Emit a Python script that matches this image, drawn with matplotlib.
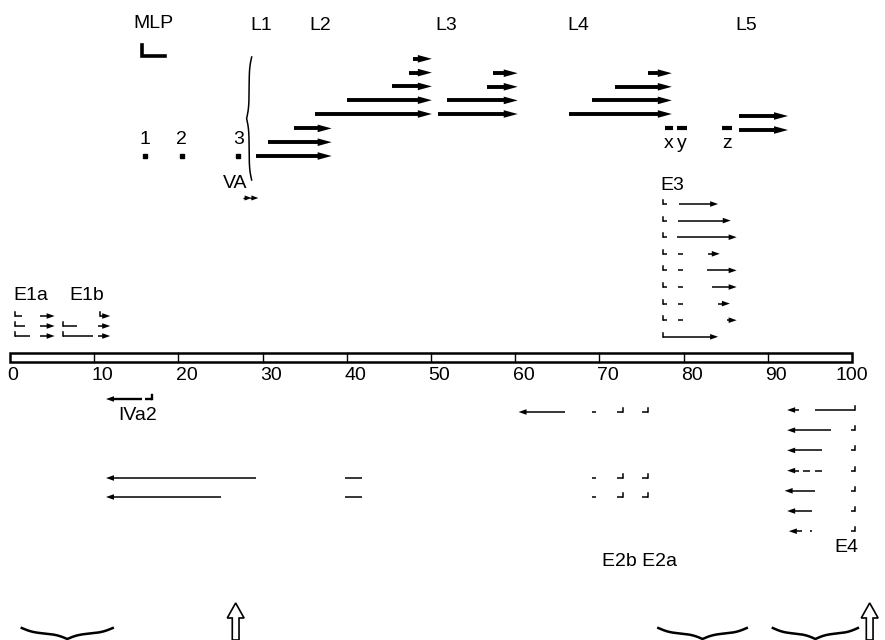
import numpy as np
import matplotlib.pyplot as plt
from matplotlib.patches import Rectangle, FancyArrow

plt.rcParams['font.family'] = ['Liberation Sans', 'DejaVu Sans']

# genome scale, map units 0-100
scale_ticks = [0, 10, 20, 30, 40, 50, 60, 70, 80, 90, 100]

# major late promoter, tripartite leader, VA RNA
mlp_pos = 15.7
leader_labels = ['1', '2', '3']
leader_pos = [16.0, 20.4, 27.1]
va_span = (27.7, 29.5)

# late families: start of each mRNA body and the shared 3' end
late_names = ['L1', 'L2', 'L3', 'L4', 'L5']
late_label_pos = [29.8, 36.8, 51.8, 67.5, 87.4]
late_starts = [
    [29.2, 30.6, 33.7],
    [36.2, 40.0, 45.4, 47.4, 47.9],
    [50.8, 51.9, 56.7, 57.4],
    [66.4, 69.1, 71.9, 75.8],
    [86.6, 86.6],
]
late_ends = [38.2, 50.1, 60.3, 78.6, 92.4]
xyz_labels = ['x', 'y', 'z']
xyz_spans = [(77.8, 78.7), (79.2, 80.4), (84.6, 85.7)]

# early units, exons listed from the promoter towards the 3' end
e1a = [
    [(0.6, 1.4), (3.6, 5.3)],
    [(0.6, 1.8), (3.6, 5.3)],
    [(0.6, 2.4), (3.6, 5.3)],
]
e1b = [
    [(10.7, 11.9)],
    [(6.3, 8.0), (10.5, 11.9)],
    [(6.3, 9.9), (10.5, 11.9)],
]
e3 = [
    [(77.6, 78.0), (79.5, 84.1)],
    [(77.6, 78.0), (79.3, 85.6)],
    [(77.6, 78.0), (79.2, 86.3)],
    [(77.6, 78.0), (79.3, 79.9), (82.9, 84.3)],
    [(77.6, 78.0), (79.3, 79.9), (82.8, 86.3)],
    [(77.6, 78.0), (79.3, 79.9), (83.4, 86.3)],
    [(77.6, 78.0), (79.3, 79.9), (84.1, 85.5)],
    [(77.6, 78.0), (79.3, 79.9), (85.2, 86.3)],
    [(77.6, 84.1)],
]
iva2 = [(16.9, 16.0), (15.7, 11.4)]
e2_promoters = [75.8, 72.8]
e2 = [
    [(75.8, 75.1), (72.8, 72.1), (69.6, 69.1), (65.9, 60.4)],
    [(75.8, 75.1), (72.8, 72.1), (69.6, 69.1), (41.8, 39.8), (29.2, 11.4)],
    [(75.8, 75.1), (72.8, 72.1), (69.6, 69.1), (41.8, 39.8), (25.1, 11.4)],
]
e4 = [
    [(100.4, 95.6), (93.7, 92.3)],
    [(100.4, 99.9), (97.5, 92.3)],
    [(100.4, 99.9), (96.4, 92.3)],
    [(100.4, 99.9), (96.4, 95.6), (95.0, 94.2), (93.7, 92.3)],
    [(100.4, 99.9), (95.6, 92.0)],
    [(100.4, 99.9), (95.2, 92.3)],
    [(100.4, 99.9), (95.2, 95.0), (94.1, 92.5)],
]

# regions marked under the map
brace_spans = [(1.4, 12.2), (77.0, 87.5), (90.6, 100.7)]
up_arrow_pos = [26.8, 102.1]

# ---- figure: x in map units, y in rows of pixels (top = 0)
PX = 8.42  # pixels per map unit
fig = plt.figure(figsize=(8.85, 6.4), dpi=100)
ax = fig.add_axes([0, 0, 1, 1])
ax.set_xlim(-10 / PX, 875 / PX)
ax.set_ylim(640, 0)
ax.axis('off')

FS = 14


def arrow(x0, x1, y, lw=1.1, hl=8, hw=2.8):
    # line plus a filled triangular head, head sizes in pixels
    d = 1 if x1 >= x0 else -1
    hlu = hl / PX
    base = x1 - d * hlu
    if (base - x0) * d > 0:
        ax.plot([x0, base + d * 0.1], [y, y], color='black', lw=lw, solid_capstyle='butt')
    ax.fill([base, x1, base], [y - hw, y, y + hw], color='black', lw=0)


def transcript(exons, y, lw=1.1, ticks=None, tick_h=4):
    for i, (s, e) in enumerate(exons):
        if i == len(exons) - 1:
            arrow(s, e, y, lw=lw)
        else:
            ax.plot([s, e], [y, y], color='black', lw=lw, solid_capstyle='butt')
    if ticks is None:
        ticks = [exons[0][0]]
    for t in ticks:
        ax.plot([t, t], [y - tick_h, y], color='black', lw=lw, solid_capstyle='projecting')


def brace(c0, c1, base, depth, vertical=False, lw=1.6, beta=14):
    half = np.linspace(0, 0.5, 120)
    b = 1 / (1 + np.exp(-beta * half)) + 1 / (1 + np.exp(-beta * (half - 0.5))) - 0.5
    shape = np.concatenate([b, b[::-1][1:]])
    t = np.concatenate([half, 1 - half[::-1][1:]])
    along = c0 + (c1 - c0) * t
    off = base + depth * shape
    if vertical:
        ax.plot(off, along, color='black', lw=lw)
    else:
        ax.plot(along, off, color='black', lw=lw)


# genome bar
ax.add_patch(Rectangle((0, 353), 100, 9, fill=False, ec='black', lw=1.8))
for v in scale_ticks[1:-1]:
    ax.plot([v, v], [353, 362], color='black', lw=1)
for v in scale_ticks:
    if v < 100:
        ax.text(v - 0.3, 376, str(v), ha='left', va='center', fontsize=FS)
    else:
        ax.text(v, 376, str(v), ha='center', va='center', fontsize=FS)

# MLP and leaders
ax.text(17.0, 23, 'MLP', ha='center', va='center', fontsize=FS)
ax.plot([mlp_pos, mlp_pos, mlp_pos + 2.7], [45, 56, 56], color='black', lw=2.6,
        solid_joinstyle='miter')
for lab, p in zip(leader_labels, leader_pos):
    ax.text(p, 139, lab, ha='center', va='center', fontsize=FS)
ax.plot(leader_pos, [156] * len(leader_pos), 's', color='black', ms=3)
brace(57, 180, 28.7, -0.6, vertical=True, lw=1.1, beta=22)

ax.text(26.8, 184, 'VA', ha='center', va='center', fontsize=FS)
arrow(va_span[0], va_span[0] + 1.0, 198, lw=1.0, hl=7, hw=2.5)
arrow(va_span[0] + 0.8, va_span[1], 198, lw=1.0, hl=7, hw=2.5)

# late transcripts
row_base = [156, 114, 114, 114, 130]
row_step = [13.8, 13.8, 13.6, 13.6, 14]
for name, lx in zip(late_names, late_label_pos):
    ax.text(lx, 25, name, ha='center', va='center', fontsize=FS)
for k, (starts, end) in enumerate(zip(late_starts, late_ends)):
    for i, s in enumerate(starts):
        y = row_base[k] - row_step[k] * i
        arrow(s, end, y, lw=2.8, hl=14, hw=3.8)
for lab, (s, e) in zip(xyz_labels, xyz_spans):
    ax.plot([s, e], [128, 128], color='black', lw=3, solid_capstyle='butt')
    ax.text((s + e) / 2, 143, lab, ha='center', va='center', fontsize=FS)

# E1a / E1b
ax.text(0.35, 296, 'E1a', ha='left', va='center', fontsize=FS)
ax.text(7.1, 296, 'E1b', ha='left', va='center', fontsize=FS)
for i, ex in enumerate(e1a):
    transcript(ex, 316 + 10 * i, tick_h=4)
for i, ex in enumerate(e1b):
    transcript(ex, 316 + 10 * i, tick_h=4)

# E3
ax.text(77.2, 185, 'E3', ha='left', va='center', fontsize=FS)
for i, ex in enumerate(e3):
    transcript(ex, 204 + 16.6 * i)

# IVa2
transcript(iva2, 399, lw=1.7)
ax.text(15.1, 415, 'IVa2', ha='center', va='center', fontsize=FS)

# E2
for y, ex in zip([412, 478, 497], e2):
    transcript(ex, y, ticks=e2_promoters)
ax.text(74.8, 562, 'E2b E2a', ha='center', va='center', fontsize=FS)

# E4
for i, ex in enumerate(e4):
    transcript(ex, 410 + 20.2 * i)
ax.text(99.3, 548, 'E4', ha='center', va='center', fontsize=FS)

# bottom braces and hollow arrows
for s, e in brace_spans:
    brace(s, e, 628, 11, lw=1.8)
for p in up_arrow_pos:
    ax.add_patch(FancyArrow(p, 640, 0, -37, width=0.8, head_width=2.0,
                            head_length=15, length_includes_head=True,
                            fc='white', ec='black', lw=1.2))

fig.savefig('out.png', dpi=100, facecolor='white')
